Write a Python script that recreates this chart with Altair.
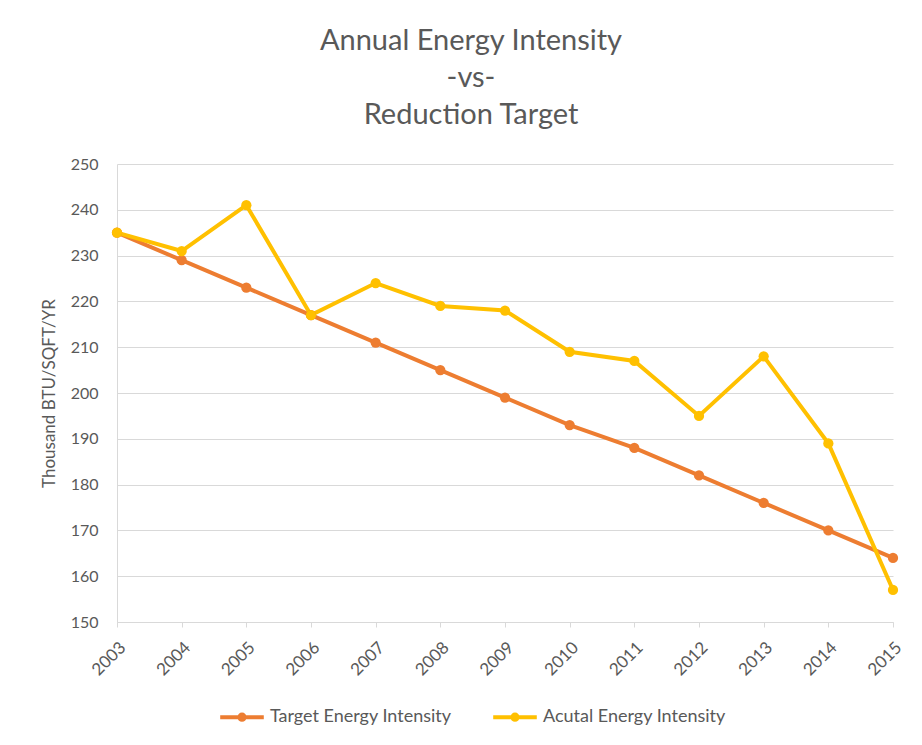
import altair as alt
import pandas as pd

years = ["2003", "2004", "2005", "2006", "2007", "2008", "2009", "2010", "2011", "2012", "2013", "2014", "2015"]
target = [235, 229, 223, 217, 211, 205, 199, 193, 188, 182, 176, 170, 164]
actual = [235, 231, 241, 217, 224, 219, 218, 209, 207, 195, 208, 189, 157]
series = ["Target Energy Intensity", "Acutal Energy Intensity"]
colors = ["#ED7D31", "#FFC000"]
y_ticks = [150, 160, 170, 180, 190, 200, 210, 220, 230, 240, 250]

rows = []
for name, vals in zip(series, [target, actual]):
    for yr, v in zip(years, vals):
        rows.append({"Year": yr, "Value": v, "Series": name})
df = pd.DataFrame(rows)

FONT = "Lato"
TXT = "#595959"
GRID = "#D9D9D9"

legend_symbol = "M-1,0L1,0M-0.12,0A0.12,0.12 0 1,0 0.12,0A0.12,0.12 0 1,0 -0.12,0"

chart = alt.Chart(df).mark_line(
    strokeWidth=4,
    point=alt.OverlayMarkDef(filled=True, size=105),
).encode(
    x=alt.X("Year:O", sort=years,
            scale=alt.Scale(type="point", padding=0),
            axis=alt.Axis(title=None, labelAngle=-45, labelFont=FONT, labelFontSize=17,
                          labelColor=TXT, domainColor=GRID, tickColor=GRID, tickSize=5,
                          domainWidth=1.2, labelPadding=12, grid=False)),
    y=alt.Y("Value:Q", scale=alt.Scale(domain=[150, 250], nice=False, zero=False),
            axis=alt.Axis(title="Thousand BTU/SQFT/YR", values=y_ticks, labelFont=FONT,
                          labelFontSize=16, labelColor=TXT, titleFont=FONT, titleFontSize=17,
                          titleFontWeight="normal", titleColor=TXT, titlePadding=12,
                          domainColor=GRID, ticks=False, labelPadding=19,
                          gridColor=GRID, gridWidth=1.2)),
    color=alt.Color("Series:N", sort=series,
                    scale=alt.Scale(domain=series, range=colors),
                    legend=alt.Legend(title=None, orient="none", direction="horizontal",
                                      legendX=101, legendY=529,
                                      symbolType=legend_symbol, symbolSize=1900,
                                      symbolStrokeWidth=4, labelFont=FONT, labelFontSize=18,
                                      labelColor=TXT, columnPadding=33, labelOffset=4,
                                      labelLimit=400)),
).properties(
    width=776,
    height=458,
    title=alt.TitleParams(["Annual Energy Intensity", "-vs-", "Reduction Target"],
                          font=FONT, fontSize=29, fontWeight="normal", color=TXT,
                          lineHeight=37, anchor="middle", dx=-34, offset=26),
    padding={"left": 109, "top": 156, "right": 21, "bottom": 121},
    autosize=alt.AutoSizeParams(type="none"),
).configure_view(stroke=None)

chart.save("out.html", embed_options={"renderer": "svg", "actions": False})
